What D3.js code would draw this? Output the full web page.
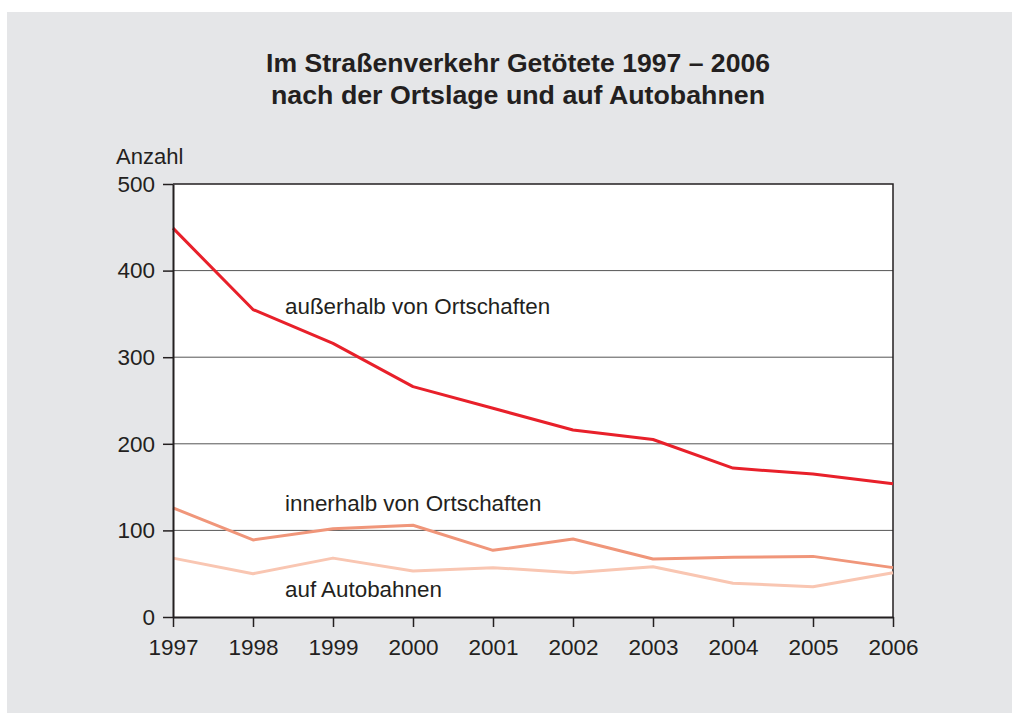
<!DOCTYPE html>
<html>
<head>
<meta charset="utf-8">
<script src="https://cdn.jsdelivr.net/npm/d3@7"></script>
<style>
  body { margin: 0; background: #fff; }
  svg { display: block; font-family: "Liberation Sans", Arial, sans-serif; }
</style>
</head>
<body>
<div id="chart"></div>
<script>
// Daten
const years = [1997, 1998, 1999, 2000, 2001, 2002, 2003, 2004, 2005, 2006];
const ausserorts = [449, 355, 316, 266, 241, 216, 205, 172, 165, 154];
const innerorts = [126, 89, 102, 106, 77, 90, 67, 69, 70, 57];
const autobahnen = [68, 50, 68, 53, 57, 51, 58, 39, 35, 51];
const yTicks = [0, 100, 200, 300, 400, 500];

const series = [
  { name: 'außerhalb von Ortschaften', values: ausserorts, color: '#e8202a', lx: 285, ly: 314 },
  { name: 'innerhalb von Ortschaften', values: innerorts, color: '#f0967a', lx: 285, ly: 511 },
  { name: 'auf Autobahnen', values: autobahnen, color: '#f9c6b2', lx: 285, ly: 597 }
];

const W = 1012, H = 713;
const margin = { top: 184, right: 119, bottom: 96, left: 173 };
const width = W - margin.left - margin.right;
const height = H - margin.top - margin.bottom;

const svg = d3.select('#chart').append('svg')
  .attr('width', W)
  .attr('height', H);

// grauer Hintergrund
svg.append('rect')
  .attr('x', 7).attr('y', 12)
  .attr('width', W - 7).attr('height', H - 12)
  .attr('fill', '#e5e6e8');

// Titel
svg.append('text')
  .attr('x', 518).attr('y', 72)
  .attr('text-anchor', 'middle')
  .attr('font-size', 25).attr('font-weight', 'bold').attr('fill', '#231f20')
  .attr('textLength', 504).attr('lengthAdjust', 'spacingAndGlyphs')
  .text('Im Straßenverkehr Getötete 1997 – 2006');
svg.append('text')
  .attr('x', 518).attr('y', 104)
  .attr('text-anchor', 'middle')
  .attr('font-size', 25).attr('font-weight', 'bold').attr('fill', '#231f20')
  .attr('textLength', 494).attr('lengthAdjust', 'spacingAndGlyphs')
  .text('nach der Ortslage und auf Autobahnen');

const g = svg.append('g')
  .attr('transform', `translate(${margin.left},${margin.top})`);

const x = d3.scaleLinear().domain([years[0], years[years.length - 1]]).range([0, width]);
const y = d3.scaleLinear().domain([0, 500]).range([height, 0]);

// Plotfläche
g.append('rect')
  .attr('width', width).attr('height', height)
  .attr('fill', '#fff');

// Gitterlinien
g.append('g')
  .selectAll('line')
  .data(yTicks.filter(d => d > 0 && d < 500))
  .enter().append('line')
  .attr('x1', 0).attr('x2', width)
  .attr('y1', d => y(d)).attr('y2', d => y(d))
  .attr('stroke', '#555').attr('stroke-width', 1);

// Rahmen oben und rechts
g.append('path')
  .attr('d', `M0,${y(500)}H${width}V${height}`)
  .attr('fill', 'none').attr('stroke', '#231f20').attr('stroke-width', 1.5);

// Linien
const line = d3.line()
  .x((d, i) => x(years[i]))
  .y(d => y(d));

series.forEach(s => {
  g.append('path')
    .datum(s.values)
    .attr('fill', 'none')
    .attr('stroke', s.color)
    .attr('stroke-width', 3)
    .attr('stroke-linejoin', 'round')
    .attr('d', line);
});

// Achsen
const yAxis = g.append('g')
  .call(d3.axisLeft(y).tickValues(yTicks).tickSize(10).tickPadding(8).tickSizeOuter(0));
const xAxis = g.append('g')
  .attr('transform', `translate(0,${height})`)
  .call(d3.axisBottom(x).tickValues(years).tickFormat(d3.format('d')).tickSize(10).tickPadding(12).tickSizeOuter(0));

[yAxis, xAxis].forEach(a => {
  a.select('.domain').attr('stroke', '#231f20').attr('stroke-width', 2);
  a.selectAll('.tick line').attr('stroke', '#231f20').attr('stroke-width', 1.5);
  a.selectAll('.tick text')
    .attr('font-size', 22.5).attr('fill', '#231f20')
    .attr('font-family', '"Liberation Sans", Arial, sans-serif');
});

// Achsentitel
svg.append('text')
  .attr('x', 116).attr('y', 164)
  .attr('font-size', 22).attr('fill', '#231f20')
  .text('Anzahl');

// Beschriftungen der Linien
series.forEach(s => {
  svg.append('text')
    .attr('x', s.lx).attr('y', s.ly)
    .attr('font-size', 22.4).attr('fill', '#231f20')
    .text(s.name);
});
</script>
</body>
</html>
